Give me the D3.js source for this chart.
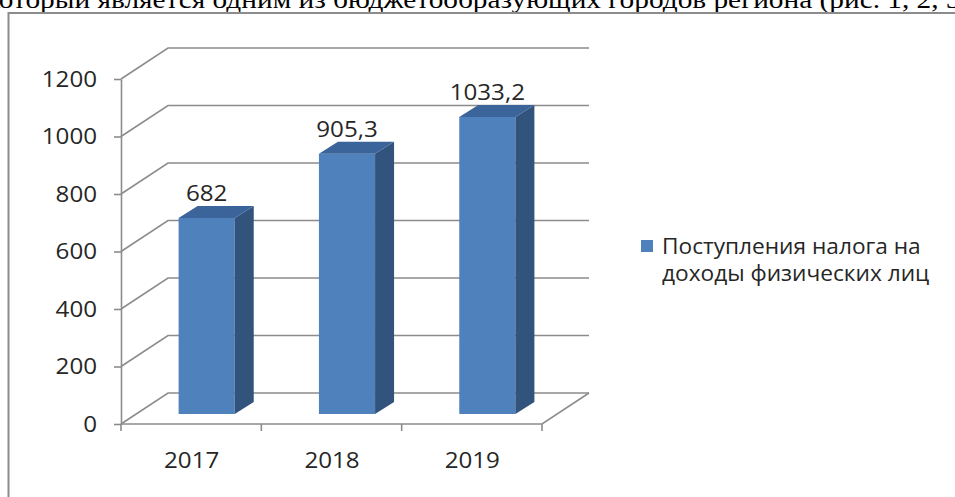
<!DOCTYPE html>
<html>
<head>
<meta charset="utf-8">
<script src="https://cdn.jsdelivr.net/npm/d3@7/dist/d3.min.js"></script>
<style>
  body { margin: 0; background: #fff; }
  svg { display: block; }
</style>
</head>
<body>
<div class="container"></div>
<script>
var years = ["2017", "2018", "2019"];
var values = [682, 905.3, 1033.2];
var valueLabels = ["682", "905,3", "1033,2"];
var yTicks = [0, 200, 400, 600, 800, 1000, 1200];
var seriesName = ["Поступления налога на", "доходы физических лиц"];
var headerText = "который является одним из бюджетообразующих городов региона (рис. 1, 2, 3)";

var w = 955;
var h = 497;

var svg = d3.select(".container")
    .append("svg")
    .attr("width", w)
    .attr("height", h);

var sx = 1.15; // text in the picture looks stretched sideways
var font = "'Open Sans', sans-serif";

// depth of the 3d box and of the bars
var depthX = 47, depthY = -31;
var barOffX = 15.5, barOffY = -10;
var barDepthX = 19, barDepthY = -12;

var y = d3.scaleLinear()
    .domain([0, 1200])
    .range([424, 79]);

var x = d3.scaleBand()
    .domain(years)
    .range([121, 542])
    .paddingInner(0.6)
    .paddingOuter(0.3);

function stretchedText(g, tx, ty, str, anchor, k) {
    return g.append("text")
        .attr("transform", "translate(" + tx + "," + ty + ")scale(" + (k || sx) + ",1)")
        .attr("text-anchor", anchor)
        .style("font-family", font)
        .style("font-size", "21px")
        .attr("fill", "#262626")
        .text(str);
}

// header line of the page (cut off at top)
svg.append("text")
    .attr("transform", "translate(-14,8)scale(1.15,1)")
    .style("font-family", "'Liberation Serif', 'Times New Roman', serif")
    .style("font-size", "25.5px")
    .attr("fill", "#000")
    .text(headerText);

// frame
svg.append("path")
    .attr("d", "M8.5," + h + "V13H" + w)
    .attr("fill", "none")
    .attr("stroke", "#8c8c8c")
    .attr("stroke-width", 2);

var grid = svg.append("g").attr("stroke", "#8c8c8c").attr("stroke-width", 1.6).attr("fill", "none");
var x0 = x.range()[0], x1 = x.range()[1];

// walls: side diagonal + back horizontal for each tick
grid.selectAll(".wall")
    .data(yTicks)
    .enter()
    .append("path")
    .attr("d", function(d) {
        return "M" + x0 + "," + y(d) + "L" + (x0 + depthX) + "," + (y(d) + depthY) + "H" + (x1 + depthX);
    });

// floor front and right edge
grid.append("path")
    .attr("d", "M" + x0 + "," + y(0) + "H" + x1 + "L" + (x1 + depthX) + "," + (y(0) + depthY));

// y axis
var yAxis = d3.axisLeft(y)
    .tickValues(yTicks)
    .tickSize(7)
    .tickSizeOuter(0)
    .tickFormat("");

var yAxisGroup = svg.append("g")
    .attr("class", "yaxis")
    .attr("transform", "translate(" + x0 + ",0)")
    .call(yAxis);
yAxisGroup.selectAll("path, line").attr("stroke", "#8c8c8c").attr("stroke-width", 1.6);

yTicks.forEach(function(t) {
    stretchedText(svg, 97, y(t) + 7.5, String(t), "end");
});

// x ticks on category edges
var edges = d3.range(years.length + 1).map(function(i) { return x0 + i * x.step(); });
grid.selectAll(".xtick")
    .data(edges)
    .enter()
    .append("line")
    .attr("x1", function(d) { return d; })
    .attr("x2", function(d) { return d; })
    .attr("y1", y(0))
    .attr("y2", y(0) + 7);

years.forEach(function(yr) {
    stretchedText(svg, x(yr) + x.bandwidth() / 2 + 0.5, 468, yr, "middle");
});

// bars
var bars = svg.selectAll(".bar")
    .data(values)
    .enter()
    .append("g")
    .attr("class", "bar");

function fx(i) { return x(years[i]) + barOffX; }
function fy(d) { return y(d) + barOffY; }
var fyb = y(0) + barOffY;
var bw = x.bandwidth();

bars.append("rect")
    .attr("x", function(d, i) { return fx(i); })
    .attr("y", function(d) { return fy(d); })
    .attr("width", bw)
    .attr("height", function(d) { return fyb - fy(d); })
    .attr("fill", "#4f81bd");

bars.append("path")
    .attr("d", function(d, i) {
        var r = fx(i) + bw;
        return "M" + r + "," + fy(d) + "L" + (r + barDepthX) + "," + (fy(d) + barDepthY) +
            "V" + (fyb + barDepthY) + "L" + r + "," + fyb + "Z";
    })
    .attr("fill", "#31537c");

bars.append("path")
    .attr("d", function(d, i) {
        var l = fx(i);
        return "M" + l + "," + fy(d) + "L" + (l + barDepthX) + "," + (fy(d) + barDepthY) +
            "H" + (l + bw + barDepthX) + "L" + (l + bw) + "," + fy(d) + "Z";
    })
    .attr("fill", "#3b659a");

values.forEach(function(d, i) {
    stretchedText(svg, fx(i) + bw / 2, fy(d) + barDepthY - 5, valueLabels[i], "middle");
});

// legend
svg.append("rect")
    .attr("x", 641)
    .attr("y", 240)
    .attr("width", 12)
    .attr("height", 12)
    .attr("fill", "#4f81bd");

seriesName.forEach(function(line, i) {
    stretchedText(svg, 662, 254 + i * 27, line, "start", 1.08);
});
</script>
</body>
</html>
